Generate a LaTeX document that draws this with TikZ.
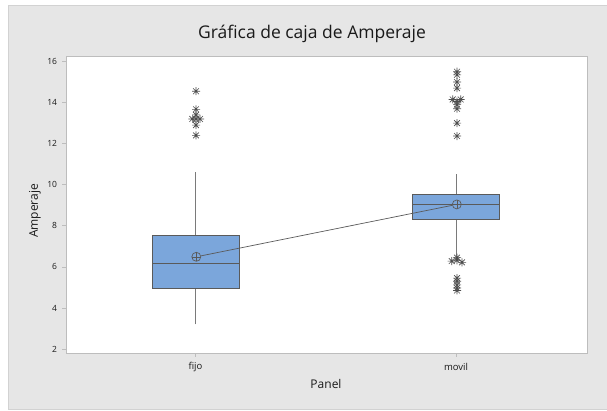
\documentclass[tikz,border=0pt]{standalone}
\usepackage{fontspec}
\setmainfont{Open Sans}
\definecolor{bg}{HTML}{E6E6E6}
\definecolor{bgline}{HTML}{D2D2D2}
\definecolor{frame}{HTML}{BDBDBD}
\definecolor{boxfill}{HTML}{7BA6DB}
\definecolor{edge}{HTML}{5A5A5A}
\definecolor{whisk}{HTML}{7A7A7A}
\definecolor{starc}{HTML}{4D4D4D}
\definecolor{txt}{HTML}{1A1A1A}
\tikzset{
  boxstyle/.style={fill=boxfill, draw=edge, line width=0.9bp},
  whiskstyle/.style={draw=whisk, line width=0.9bp},
  medstyle/.style={draw=edge, line width=0.9bp},
  meanmark/.style={circle, draw=edge, line width=0.7bp, minimum size=9bp, inner sep=0pt,
    path picture={\draw[edge, line width=0.6bp] (path picture bounding box.north) -- (path picture bounding box.south)
      (path picture bounding box.west) -- (path picture bounding box.east);}},
  connline/.style={draw=edge, line width=0.7bp},
  ticklab/.style={font=\fontsize{8.5bp}{10bp}\selectfont, text=txt},
  xticklab/.style={font=\fontsize{9.5bp}{11bp}\selectfont, text=txt},
  axlab/.style={font=\fontsize{12bp}{14bp}\selectfont, text=txt},
  ticks/.style={draw=frame, line width=0.7bp},
}
\newcommand{\outlier}[2]{%
  \draw[starc, line width=0.6bp] ([xshift=-4bp]#1,#2) -- ([xshift=4bp]#1,#2)
    ([yshift=-4bp]#1,#2) -- ([yshift=4bp]#1,#2)
    ([xshift=-2.9bp,yshift=-2.9bp]#1,#2) -- ([xshift=2.9bp,yshift=2.9bp]#1,#2)
    ([xshift=-2.9bp,yshift=2.9bp]#1,#2) -- ([xshift=2.9bp,yshift=-2.9bp]#1,#2);}
\begin{document}
\begin{tikzpicture}[x=1bp, y=-1bp]
\useasboundingbox (0,0) rectangle (607,410);
\fill[white] (0,0) rectangle (607,410);
\fill[bg] (8,5) rectangle (607,409);
\draw[bgline, line width=0.8bp] (8,409) -- (8,5) -- (607,5);
\draw[bgline, line width=0.8bp] (8,409) -- (607,409);
% plot area
\fill[white] (66,56) rectangle (587,353);
\draw[frame, line width=1bp] (66,56) rectangle (587,353);
% title
\node[font=\fontsize{17.5bp}{20bp}\selectfont, text=txt] (title) at (312,34) {Gráfica de caja de Amperaje};
% axis labels
\node[axlab, rotate=90] (ylab) at (35,211) {Amperaje};
\node[axlab] (xlab) at (326,384) {Panel};
% x ticks
\draw[ticks] (195.5,353) -- (195.5,357) (456,353) -- (456,357);
\node[xticklab] (fijo) at (195.5,367) {fijo};
\node[xticklab] (movil) at (456,367) {movil};
\begin{scope}[shift={(0,390.1)}, y={(0bp,20.54bp)}]
  \foreach \v in {2,4,...,16} {
    \draw[ticks] (62,\v) -- (66,\v);
    \node[ticklab, anchor=east] (yt\v) at (60.5,\v) {\v};
  }
  % fijo
  \draw[whiskstyle] (195.5,3.2) -- (195.5,4.96) (195.5,7.54) -- (195.5,10.62);
  \draw[boxstyle] (152,4.96) rectangle (239,7.54);
  \draw[medstyle] (152,6.19) -- (239,6.19);
  % movil
  \draw[whiskstyle] (456,6.53) -- (456,8.33) (456,9.53) -- (456,10.52);
  \draw[boxstyle] (412.5,8.33) rectangle (499.5,9.53);
  \draw[medstyle] (412.5,9.04) -- (499.5,9.04);
  % means
  \node[meanmark] (m1) at (196.3,6.49) {};
  \node[meanmark] (m2) at (456.8,9.04) {};
  \draw[connline] (m1) -- (m2);
  % outliers fijo
  \outlier{196}{14.55}
  \outlier{196}{13.67}
  \outlier{196}{13.4}
  \outlier{192.3}{13.2}
  \outlier{196}{13.2}
  \outlier{200}{13.2}
  \outlier{196}{12.9}
  \outlier{196}{12.4}
  % outliers movil top
  \outlier{457}{15.5}
  \outlier{457}{15.35}
  \outlier{457}{15.0}
  \outlier{457}{14.7}
  \outlier{452.7}{14.15}
  \outlier{460.7}{14.15}
  \outlier{457}{14.05}
  \outlier{457}{13.9}
  \outlier{457}{13.7}
  \outlier{457}{13.0}
  \outlier{457}{12.37}
  % outliers movil bottom
  \outlier{457}{6.45}
  \outlier{451.7}{6.28}
  \outlier{457}{6.32}
  \outlier{462}{6.22}
  \outlier{457}{5.45}
  \outlier{457}{5.3}
  \outlier{457}{5.12}
  \outlier{457}{4.97}
  \outlier{457}{4.85}
\end{scope}
\end{tikzpicture}
\end{document}
